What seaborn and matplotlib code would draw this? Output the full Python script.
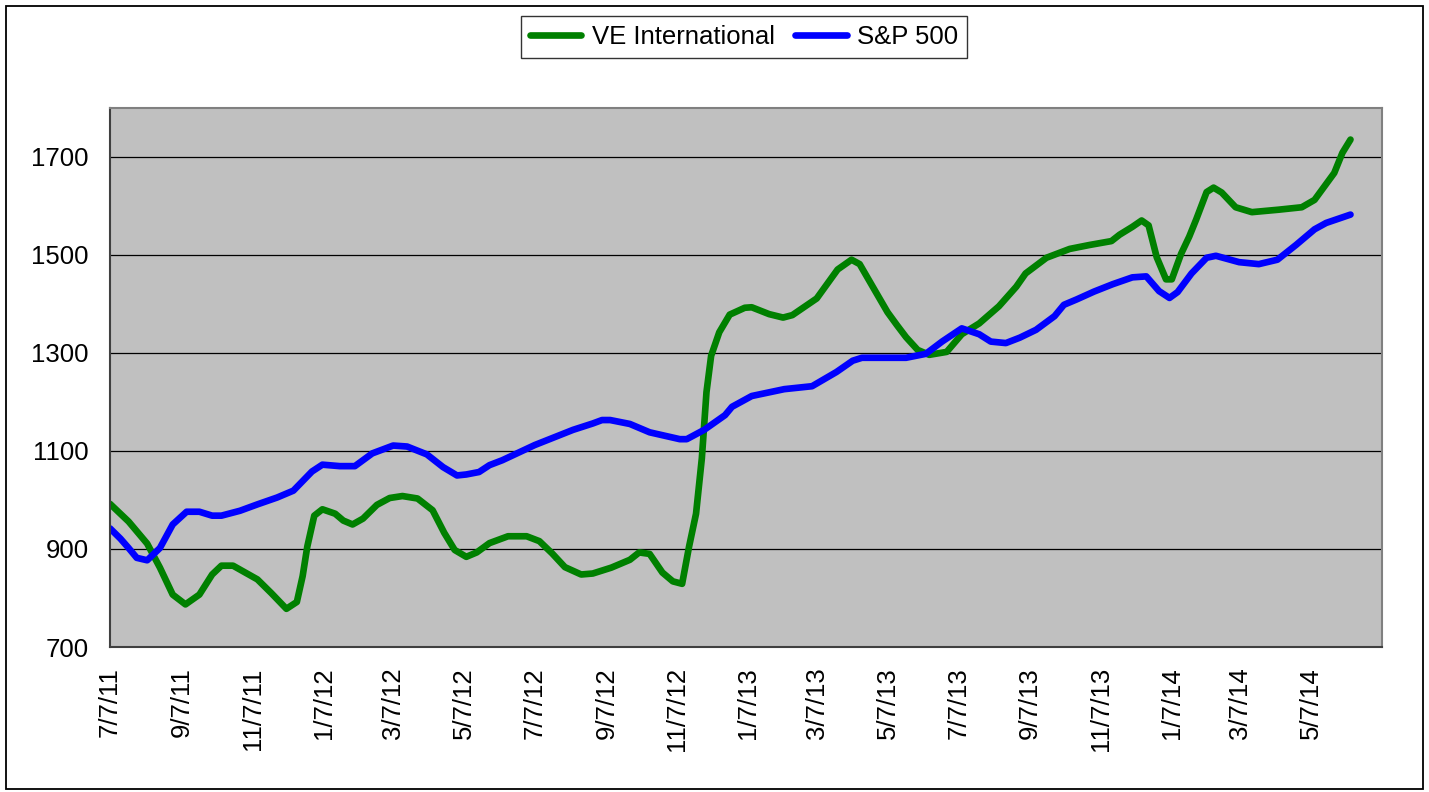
import pandas as pd
import matplotlib.pyplot as plt
from matplotlib.lines import Line2D
from matplotlib.patches import Rectangle
import seaborn as sns

# values
ve_dates = ['2011-07-07', '2011-07-23', '2011-08-08', '2011-08-19', '2011-08-30', '2011-09-10',
            '2011-09-22', '2011-10-03', '2011-10-11', '2011-10-21', '2011-11-11', '2011-11-23',
            '2011-12-06', '2011-12-15', '2011-12-20', '2011-12-24', '2011-12-30', '2012-01-06',
            '2012-01-17', '2012-01-24', '2012-02-01', '2012-02-10', '2012-02-22', '2012-03-04',
            '2012-03-15', '2012-03-28', '2012-04-10', '2012-04-20', '2012-04-29', '2012-05-09',
            '2012-05-18', '2012-05-29', '2012-06-14', '2012-06-30', '2012-07-11', '2012-07-22',
            '2012-08-02', '2012-08-16', '2012-08-26', '2012-09-11', '2012-09-27', '2012-10-05',
            '2012-10-14', '2012-10-25', '2012-11-03', '2012-11-11', '2012-11-17', '2012-11-23',
            '2012-11-28', '2012-12-02', '2012-12-06', '2012-12-13', '2012-12-22', '2013-01-04',
            '2013-01-10', '2013-01-25', '2013-02-06', '2013-02-14', '2013-03-07', '2013-03-25',
            '2013-04-06', '2013-04-13', '2013-04-24', '2013-05-07', '2013-05-15', '2013-05-23',
            '2013-06-02', '2013-06-12', '2013-06-27', '2013-07-10', '2013-07-25', '2013-08-11',
            '2013-08-26', '2013-09-03', '2013-09-21', '2013-10-11', '2013-10-28', '2013-11-16',
            '2013-11-23', '2013-12-04', '2013-12-12', '2013-12-18', '2013-12-25', '2014-01-02',
            '2014-01-07', '2014-01-15', '2014-01-22', '2014-01-28', '2014-02-06', '2014-02-12',
            '2014-02-19', '2014-03-03', '2014-03-17', '2014-04-09', '2014-04-29', '2014-05-10',
            '2014-05-27', '2014-06-03', '2014-06-10']
ve_values = [992, 956, 911, 862, 807, 787,
             807, 848, 866, 866, 838, 810,
             778, 792, 845, 905, 968, 981,
             972, 958, 950, 962, 990, 1004,
             1008, 1003, 979, 933, 898, 884,
             893, 912, 926, 926, 916, 891,
             863, 848, 850, 862, 878, 893,
             890, 852, 834, 829, 905, 972,
             1085, 1220, 1294, 1342, 1378, 1392,
             1393, 1379, 1372, 1377, 1411, 1470,
             1490, 1481, 1436, 1383, 1357, 1332,
             1306, 1296, 1302, 1338, 1360, 1395,
             1435, 1462, 1494, 1512, 1520, 1528,
             1541, 1557, 1570, 1560, 1495, 1450,
             1450, 1502, 1537, 1572, 1628, 1637,
             1627, 1597, 1587, 1592, 1597, 1612,
             1667, 1708, 1735]

sp_dates = ['2011-07-07', '2011-07-16', '2011-07-23', '2011-07-30', '2011-08-08', '2011-08-19',
            '2011-08-30', '2011-09-11', '2011-09-22', '2011-10-03', '2011-10-11', '2011-10-27',
            '2011-11-11', '2011-11-28', '2011-12-12', '2011-12-28', '2012-01-06', '2012-01-21',
            '2012-02-03', '2012-02-18', '2012-03-07', '2012-03-19', '2012-04-05', '2012-04-19',
            '2012-05-01', '2012-05-09', '2012-05-20', '2012-05-29', '2012-06-09', '2012-07-07',
            '2012-08-09', '2012-08-26', '2012-09-03', '2012-09-10', '2012-09-27', '2012-10-14',
            '2012-11-09', '2012-11-15', '2012-11-30', '2012-12-18', '2012-12-24', '2013-01-10',
            '2013-02-07', '2013-03-03', '2013-03-24', '2013-04-07', '2013-04-15', '2013-05-23',
            '2013-06-09', '2013-06-23', '2013-07-10', '2013-07-25', '2013-08-04', '2013-08-17',
            '2013-08-29', '2013-09-12', '2013-09-28', '2013-10-06', '2013-10-17', '2013-11-01',
            '2013-11-17', '2013-12-04', '2013-12-16', '2013-12-27', '2014-01-05', '2014-01-12',
            '2014-01-24', '2014-02-06', '2014-02-14', '2014-03-06', '2014-03-23', '2014-04-08',
            '2014-04-24', '2014-05-10', '2014-05-20', '2014-06-10']
sp_values = [942, 921, 902, 882, 877, 902,
             950, 976, 976, 968, 968, 978,
             991, 1005, 1019, 1058, 1072, 1069,
             1069, 1095, 1111, 1109, 1093, 1067,
             1050, 1052, 1057, 1071, 1081, 1112,
             1143, 1156, 1163, 1163, 1155, 1138,
             1124, 1124, 1143, 1173, 1190, 1212,
             1226, 1232, 1261, 1284, 1290, 1290,
             1298, 1323, 1350, 1338, 1323, 1320,
             1331, 1347, 1375, 1398, 1409, 1425,
             1440, 1454, 1456, 1426, 1412, 1424,
             1462, 1494, 1498, 1485, 1481, 1490,
             1520, 1552, 1565, 1582]

tick_dates = ['2011-07-07', '2011-09-07', '2011-11-07', '2012-01-07', '2012-03-07', '2012-05-07',
              '2012-07-07', '2012-09-07', '2012-11-07', '2013-01-07', '2013-03-07', '2013-05-07',
              '2013-07-07', '2013-09-07', '2013-11-07', '2014-01-07', '2014-03-07', '2014-05-07']
tick_labels = ['7/7/11', '9/7/11', '11/7/11', '1/7/12', '3/7/12', '5/7/12',
               '7/7/12', '9/7/12', '11/7/12', '1/7/13', '3/7/13', '5/7/13',
               '7/7/13', '9/7/13', '11/7/13', '1/7/14', '3/7/14', '5/7/14']
y_ticks = [700, 900, 1100, 1300, 1500, 1700]

sns.set_theme(style="white")
plt.rcParams['font.family'] = ['Liberation Sans', 'DejaVu Sans']
plt.rcParams['text.color'] = 'black'

ve = pd.DataFrame({'date': pd.to_datetime(ve_dates), 'value': ve_values, 'series': 'VE International'})
sp = pd.DataFrame({'date': pd.to_datetime(sp_dates), 'value': sp_values, 'series': 'S&P 500'})
df = pd.concat([ve, sp], ignore_index=True)
colors = {'VE International': '#008000', 'S&P 500': '#0000FF'}

fig = plt.figure(figsize=(14.29, 7.92), dpi=100)
ax = fig.add_axes([0.077, 0.183, 0.890, 0.681])
ax.set_facecolor('#C0C0C0')

sns.lineplot(data=df, x='date', y='value', hue='series', palette=colors,
             linewidth=4.8, legend=False, ax=ax, solid_joinstyle='round')

ax.set_ylim(700, 1800)
ax.set_yticks(y_ticks)
ax.set_xlim(pd.Timestamp('2011-07-07'), pd.Timestamp('2014-07-07'))
ax.set_xticks(pd.to_datetime(tick_dates))
ax.set_xticklabels(tick_labels, rotation=90)
ax.set_xlabel('')
ax.set_ylabel('')
ax.yaxis.grid(True, color='black', linewidth=0.9)
ax.xaxis.grid(False)
ax.set_axisbelow(True)
ax.tick_params(axis='both', labelsize=18.5, labelcolor='black', color='#555555',
               length=6.5, width=1.2, direction='out')
ax.tick_params(axis='y', pad=9)
ax.tick_params(axis='x', pad=8)
for name, sp_ in ax.spines.items():
    sp_.set_color('#808080')
    sp_.set_linewidth(1.5)
    sp_.set_visible(True)
ax.spines['left'].set_color('#404040')
ax.spines['bottom'].set_color('#404040')

handles = [Line2D([], [], color=colors[k], linewidth=4.8) for k in colors]
leg = fig.legend(handles, list(colors), loc='center', bbox_to_anchor=(0.5206, 0.953),
                 ncol=2, fontsize=18.5, frameon=True, fancybox=False, edgecolor='black',
                 handlelength=2.0, handletextpad=0.4, columnspacing=0.8,
                 borderpad=0.35, labelcolor='black')
leg.get_frame().set_linewidth(1.0)

fig.patches.append(Rectangle((0.004, 0.004), 0.992, 0.988, transform=fig.transFigure,
                             fill=False, edgecolor='black', linewidth=1.3))

fig.savefig('out.png', dpi=100)
